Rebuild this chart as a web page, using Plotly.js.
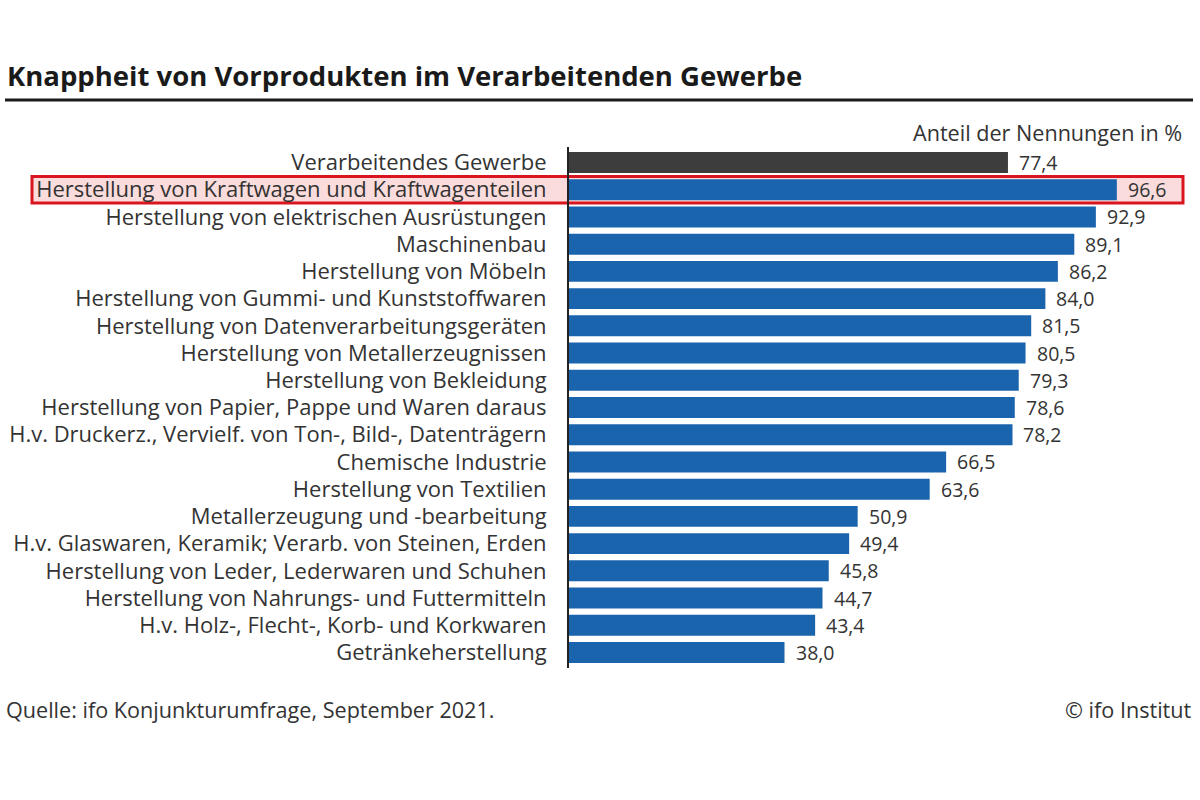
<!DOCTYPE html>
<html>
<head>
<meta charset="utf-8">
<script src="https://cdn.plot.ly/plotly-3.0.1.min.js"></script>
<style>
  html, body { margin: 0; padding: 0; background: #fff; }
  #chart { width: 1200px; height: 800px; }
</style>
</head>
<body>
<div id="chart"></div>
<script>
// Branchen, von oben nach unten
const categories = [
  "Verarbeitendes Gewerbe",
  "Herstellung von Kraftwagen und Kraftwagenteilen",
  "Herstellung von elektrischen Ausrüstungen",
  "Maschinenbau",
  "Herstellung von Möbeln",
  "Herstellung von Gummi- und Kunststoffwaren",
  "Herstellung von Datenverarbeitungsgeräten",
  "Herstellung von Metallerzeugnissen",
  "Herstellung von Bekleidung",
  "Herstellung von Papier, Pappe und Waren daraus",
  "H.v. Druckerz., Vervielf. von Ton-, Bild-, Datenträgern",
  "Chemische Industrie",
  "Herstellung von Textilien",
  "Metallerzeugung und -bearbeitung",
  "H.v. Glaswaren, Keramik; Verarb. von Steinen, Erden",
  "Herstellung von Leder, Lederwaren und Schuhen",
  "Herstellung von Nahrungs- und Futtermitteln",
  "H.v. Holz-, Flecht-, Korb- und Korkwaren",
  "Getränkeherstellung"
];

// Anteil der Nennungen in %
const shares = [77.4, 96.6, 92.9, 89.1, 86.2, 84.0, 81.5, 80.5, 79.3, 78.6, 78.2,
                66.5, 63.6, 50.9, 49.4, 45.8, 44.7, 43.4, 38.0];

const totalLabel = "Verarbeitendes Gewerbe";
const highlightLabel = "Herstellung von Kraftwagen und Kraftwagenteilen";

const W = 1200, H = 800;
const FONT = "'Open Sans', 'Noto Sans', sans-serif";
const TEXT = "#333333";
const SIZE = 21.6;

const barColors = categories.map(c => c === totalLabel ? "#3d3d3d" : "#1a63ad");

const fmt = v => v.toFixed(1).replace(".", ",");

const trace = {
  type: "bar",
  orientation: "h",
  x: shares,
  y: categories,
  marker: { color: barColors, line: { width: 0 } },
  width: 0.77,
  hoverinfo: "skip"
};

// Wertbeschriftungen rechts neben den Balken
const valueNotes = categories.map((c, i) => ({
  x: shares[i], y: c, xref: "x", yref: "y",
  text: fmt(shares[i]), showarrow: false,
  xanchor: "left", xshift: 9,
  font: { family: FONT, size: 19.5, color: TEXT }
}));

const hi = categories.indexOf(highlightLabel);

const layout = {
  width: W, height: H,
  margin: { l: 0, r: 0, t: 0, b: 0 },
  paper_bgcolor: "#ffffff",
  plot_bgcolor: "rgba(0,0,0,0)",
  separators: ",.",
  showlegend: false,
  xaxis: {
    domain: [569 / W, 1190 / W],
    range: [0, 109.5],
    showgrid: false, zeroline: false, showticklabels: false, ticks: "",
    showline: false, fixedrange: true
  },
  yaxis: {
    domain: [1 - 668 / H, 1 - 147 / H],
    type: "category",
    autorange: "reversed",
    showgrid: false, zeroline: false,
    ticks: "outside", ticklen: 16, tickcolor: "rgba(0,0,0,0)",
    tickfont: { family: FONT, size: 22, color: TEXT },
    showline: true, linecolor: "#222222", linewidth: 2,
    fixedrange: true
  },
  shapes: [
    // Hervorhebung der Automobilbranche
    {
      type: "rect", layer: "below",
      xref: "paper", yref: "y",
      x0: 32 / W, x1: 1183 / W,
      y0: hi - 0.49, y1: hi + 0.49,
      fillcolor: "#fadcdc",
      line: { color: "#d9151f", width: 3 }
    },
    // Linie unter dem Titel
    {
      type: "line", xref: "paper", yref: "paper",
      x0: 5 / W, x1: 1193 / W, y0: 1 - 100 / H, y1: 1 - 100 / H,
      line: { color: "#1a1a1a", width: 3 }
    }
  ],
  annotations: [
    {
      xref: "paper", yref: "paper", x: 5 / W, y: 1 - 75 / H,
      xanchor: "left", yanchor: "middle", showarrow: false,
      text: "<b>Knappheit von Vorprodukten im Verarbeitenden Gewerbe</b>",
      font: { family: FONT, size: 27.5, color: "#1a1a1a" }
    },
    {
      xref: "paper", yref: "paper", x: 1184 / W, y: 1 - 132 / H,
      xanchor: "right", yanchor: "middle", showarrow: false,
      text: "Anteil der Nennungen in %",
      font: { family: FONT, size: SIZE, color: TEXT }
    },
    {
      xref: "paper", yref: "paper", x: 4 / W, y: 1 - 709 / H,
      xanchor: "left", yanchor: "middle", showarrow: false,
      text: "Quelle: ifo Konjunkturumfrage, September 2021.",
      font: { family: FONT, size: SIZE, color: TEXT }
    },
    {
      xref: "paper", yref: "paper", x: 1194 / W, y: 1 - 709 / H,
      xanchor: "right", yanchor: "middle", showarrow: false,
      text: "© ifo Institut",
      font: { family: FONT, size: SIZE, color: TEXT }
    }
  ].concat(valueNotes)
};

Plotly.newPlot("chart", [trace], layout, { displayModeBar: false, staticPlot: true });
</script>
</body>
</html>
